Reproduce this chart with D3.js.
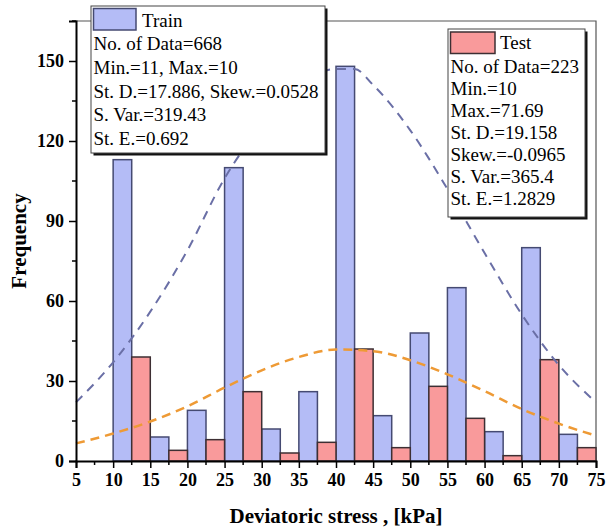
<!DOCTYPE html>
<html>
<head>
<meta charset="utf-8">
<script src="https://cdn.jsdelivr.net/npm/d3@7"></script>
<style>
  html, body { margin: 0; padding: 0; background: #fff; }
  svg { display: block; }
  text { font-family: "Liberation Serif", "Times New Roman", serif; }
</style>
</head>
<body>
<script>
// Histogram bins (lower edge, kPa); each bin is 5 kPa wide, split between Train and Test
const binStarts = [10, 15, 20, 25, 30, 35, 40, 45, 50, 55, 60, 65, 70];
const trainCounts = [113, 9, 19, 110, 12, 26, 148, 17, 48, 65, 11, 80, 10];
const testCounts  = [39, 4, 8, 26, 3, 7, 42, 5, 28, 16, 2, 38, 5];

// Fitted normal curves, sampled along the stress axis
const trainCurveX = [5, 10, 15, 20, 25, 30, 35, 40, 42.5, 45, 50, 55, 60, 65, 70, 75];
const trainCurveY = [22, 37, 56, 79, 106, 126, 141, 147, 147, 141, 124, 102, 78, 55, 36, 22];
const testCurveX  = [5, 10, 15, 20, 25, 30, 35, 40, 45, 50, 55, 60, 65, 70, 75];
const testCurveY  = [6.6, 10.3, 14.8, 20.5, 27.5, 34, 39, 41.8, 41.2, 37.8, 32.5, 26.2, 19.5, 14, 9.5];

// Axis ticks
const xTicks = [5, 10, 15, 20, 25, 30, 35, 40, 45, 50, 55, 60, 65, 70, 75];
const xMinorTicks = [7.5, 12.5, 17.5, 22.5, 27.5, 32.5, 37.5, 42.5, 47.5, 52.5, 57.5, 62.5, 67.5, 72.5];
const yTicks = [0, 30, 60, 90, 120, 150];
const yMinorTicks = [15, 45, 75, 105, 135, 165];

// Statistics boxes
const trainLegend = ["No. of Data=668", "Min.=11, Max.=10", "St. D.=17.886, Skew.=0.0528", "S. Var.=319.43", "St. E.=0.692"];
const testLegend  = ["No. of Data=223", "Min.=10", "Max.=71.69", "St. D.=19.158", "Skew.=-0.0965", "S. Var.=365.4", "St. E.=1.2829"];

const W = 606, H = 531;
const plot = { left: 76, right: 596, top: 21, bottom: 461 };

const trainFill = "#b4bcf6", trainStroke = "#454a72";
const testFill = "#f99a9b", testStroke = "#3d2f33";

const svg = d3.select("body").append("svg")
  .attr("width", W).attr("height", H)
  .style("background", "#fff");

const x = d3.scaleLinear().domain([5, 75]).range([plot.left, plot.right]);
const y = d3.scaleLinear().domain([0, 165]).range([plot.bottom, plot.top]);

// Frame (top and right)
svg.append("path")
  .attr("d", `M${plot.left},${plot.top}H${plot.right}V${plot.bottom}`)
  .attr("fill", "none").attr("stroke", "#555").attr("stroke-width", 1.2);

// Bars
const bars = svg.append("g");
bars.selectAll("rect.train").data(binStarts).join("rect")
  .attr("class", "train")
  .attr("x", d => x(d))
  .attr("width", d => x(d + 2.5) - x(d))
  .attr("y", (d, i) => y(trainCounts[i]))
  .attr("height", (d, i) => y(0) - y(trainCounts[i]))
  .attr("fill", trainFill).attr("stroke", trainStroke).attr("stroke-width", 1.5);
bars.selectAll("rect.test").data(binStarts).join("rect")
  .attr("class", "test")
  .attr("x", d => x(d + 2.5))
  .attr("width", d => x(d + 5) - x(d + 2.5))
  .attr("y", (d, i) => y(testCounts[i]))
  .attr("height", (d, i) => y(0) - y(testCounts[i]))
  .attr("fill", testFill).attr("stroke", testStroke).attr("stroke-width", 1.5);

// Distribution curves
const line = d3.line().x(d => x(d[0])).y(d => y(d[1])).curve(d3.curveMonotoneX);
svg.append("path")
  .attr("d", line(trainCurveX.map((v, i) => [v, trainCurveY[i]])))
  .attr("fill", "none").attr("stroke", "#6a6fa6").attr("stroke-width", 2)
  .attr("stroke-dasharray", "9,7");
svg.append("path")
  .attr("d", line(testCurveX.map((v, i) => [v, testCurveY[i]])))
  .attr("fill", "none").attr("stroke", "#ee9a35").attr("stroke-width", 2.5)
  .attr("stroke-dasharray", "9,6");

// X axis
const xAxis = svg.append("g").attr("transform", `translate(0,${plot.bottom})`)
  .call(d3.axisBottom(x).tickValues(xTicks).tickSize(7).tickPadding(5).tickFormat(d3.format("d")));
xAxis.append("g").selectAll("line").data(xMinorTicks).join("line")
  .attr("x1", d => x(d)).attr("x2", d => x(d)).attr("y1", 0).attr("y2", 4)
  .attr("stroke", "#000").attr("stroke-width", 1.5);

// Y axis
const yAxis = svg.append("g").attr("transform", `translate(${plot.left},0)`)
  .call(d3.axisLeft(y).tickValues(yTicks).tickSize(7).tickPadding(5).tickFormat(d3.format("d")));
yAxis.append("g").selectAll("line").data(yMinorTicks).join("line")
  .attr("x1", 0).attr("x2", -4).attr("y1", d => y(d)).attr("y2", d => y(d))
  .attr("stroke", "#000").attr("stroke-width", 1.5);

[xAxis, yAxis].forEach(g => {
  g.select(".domain").attr("stroke", "#000").attr("stroke-width", 2);
  g.selectAll(".tick line").attr("stroke", "#000").attr("stroke-width", 1.5);
  g.selectAll(".tick text")
    .attr("fill", "#000")
    .style("font-family", '"Liberation Serif", "Times New Roman", serif')
    .style("font-size", "18px").style("font-weight", "bold");
});

// Axis titles
svg.append("text")
  .attr("x", (plot.left + plot.right) / 2 - 0).attr("y", 523)
  .attr("text-anchor", "middle")
  .style("font-size", "21px").style("font-weight", "bold")
  .text("Deviatoric stress , [kPa]");
svg.append("text")
  .attr("transform", "translate(26,241) rotate(-90)")
  .attr("text-anchor", "middle")
  .style("font-size", "21px").style("font-weight", "bold")
  .text("Frequency");

// Statistics boxes
function statBox(bx, by, bw, bh, label, fill, stroke, lines, swatch, labelPos, firstBase, step) {
  const g = svg.append("g");
  g.append("rect").attr("x", bx + 2.5).attr("y", by + 2.5).attr("width", bw).attr("height", bh)
    .attr("fill", "#111");
  g.append("rect").attr("x", bx).attr("y", by).attr("width", bw).attr("height", bh)
    .attr("fill", "#fff").attr("stroke", "#444").attr("stroke-width", 1);
  g.append("rect").attr("x", swatch[0]).attr("y", swatch[1]).attr("width", swatch[2]).attr("height", swatch[3])
    .attr("fill", fill).attr("stroke", stroke).attr("stroke-width", 1.5);
  g.append("text").attr("x", labelPos[0]).attr("y", labelPos[1])
    .style("font-size", "19px").text(label);
  g.selectAll("text.stat").data(lines).join("text")
    .attr("class", "stat")
    .attr("x", swatch[0]).attr("y", (d, i) => firstBase + i * step)
    .style("font-size", "19px").text(d => d);
}

statBox(91, 6, 234, 147, "Train", trainFill, trainStroke, trainLegend,
  [93.5, 8.5, 42.5, 21.5], [142, 27], 50, 23.8);
statBox(448, 29, 137, 188, "Test", testFill, testStroke, testLegend,
  [450.5, 32, 44.5, 21.5], [500, 49], 73.3, 22);
</script>
</body>
</html>
